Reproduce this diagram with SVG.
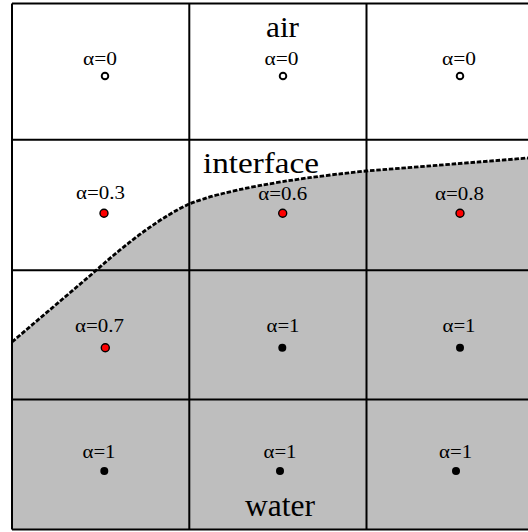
<svg xmlns="http://www.w3.org/2000/svg" width="528" height="532" viewBox="0 0 528 532">
<style>
.lbl{font-family:"Liberation Serif","Times New Roman",serif;font-size:18.5px;fill:#000;text-anchor:middle}
.big{font-family:"Liberation Serif","Times New Roman",serif;font-size:30px;fill:#000;text-anchor:middle}
.grid{stroke:#000;stroke-width:2;fill:none}
.air{fill:#fff;stroke:#000;stroke-width:1.9}
.mix{fill:#ff0000;stroke:#000;stroke-width:1.4}
.wat{fill:#000}
</style>
<rect width="528" height="532" fill="#fff"/>
<g id="water-region">
<path d="M12,342 L92,274 Q150,222 189,204 Q240,184 366,171 L528,158 L528,530 L12,530 Z" fill="#bebebe"/>
</g>
<g id="grid" class="grid">
<path d="M12,3.5 H528 M12,3.5 V529.5 M12,529.5 H528"/>
<path d="M189.3,3.5 V529.5 M366.5,3.5 V529.5"/>
<path d="M12,139.8 H528 M12,270.2 H528 M12,399.5 H528"/>
</g>
<g id="connectors">
<path id="interface-line" d="M12,342 L92,274 Q150,222 189,204 Q240,184 366,171 L528,158" fill="none" stroke="#000" stroke-width="2.8" stroke-dasharray="4.5 1.8"/>
</g>
<g id="cell-1-1"><text class="lbl" x="100" y="65" textLength="34" lengthAdjust="spacingAndGlyphs">α=0</text><circle class="air" cx="105" cy="76" r="3.3"/></g>
<g id="cell-1-2"><text class="lbl" x="281.5" y="65" textLength="34" lengthAdjust="spacingAndGlyphs">α=0</text><circle class="air" cx="283" cy="76" r="3.3"/></g>
<g id="cell-1-3"><text class="lbl" x="459" y="65" textLength="34" lengthAdjust="spacingAndGlyphs">α=0</text><circle class="air" cx="460" cy="76" r="3.3"/></g>
<g id="cell-2-1"><text class="lbl" x="100.5" y="198.5" textLength="49" lengthAdjust="spacingAndGlyphs">α=0.3</text><circle class="mix" cx="104" cy="213.3" r="4"/></g>
<g id="cell-2-2"><text class="lbl" x="282.8" y="199.5" textLength="49" lengthAdjust="spacingAndGlyphs">α=0.6</text><circle class="mix" cx="282.7" cy="213.3" r="4"/></g>
<g id="cell-2-3"><text class="lbl" x="459.5" y="199.5" textLength="49" lengthAdjust="spacingAndGlyphs">α=0.8</text><circle class="mix" cx="460" cy="213.3" r="4"/></g>
<g id="cell-3-1"><text class="lbl" x="99.5" y="332" textLength="49" lengthAdjust="spacingAndGlyphs">α=0.7</text><circle class="mix" cx="105.3" cy="347.7" r="4"/></g>
<g id="cell-3-2"><text class="lbl" x="283" y="332" textLength="33" lengthAdjust="spacingAndGlyphs">α=1</text><circle class="wat" cx="282.3" cy="347.7" r="4"/></g>
<g id="cell-3-3"><text class="lbl" x="459" y="332" textLength="33" lengthAdjust="spacingAndGlyphs">α=1</text><circle class="wat" cx="460" cy="347.7" r="4"/></g>
<g id="cell-4-1"><text class="lbl" x="99" y="458" textLength="33" lengthAdjust="spacingAndGlyphs">α=1</text><circle class="wat" cx="104.3" cy="471" r="4"/></g>
<g id="cell-4-2"><text class="lbl" x="280" y="458" textLength="33" lengthAdjust="spacingAndGlyphs">α=1</text><circle class="wat" cx="280" cy="471" r="4"/></g>
<g id="cell-4-3"><text class="lbl" x="455.6" y="458" textLength="33" lengthAdjust="spacingAndGlyphs">α=1</text><circle class="wat" cx="456" cy="471" r="4"/></g>
<g id="label-air"><text class="big" x="282.5" y="37" textLength="33" lengthAdjust="spacingAndGlyphs">air</text></g>
<g id="label-interface"><text class="big" x="261" y="173" textLength="116" lengthAdjust="spacingAndGlyphs">interface</text></g>
<g id="label-water"><text class="big" x="280" y="516" style="font-size:31px" textLength="70" lengthAdjust="spacingAndGlyphs">water</text></g>
</svg>
